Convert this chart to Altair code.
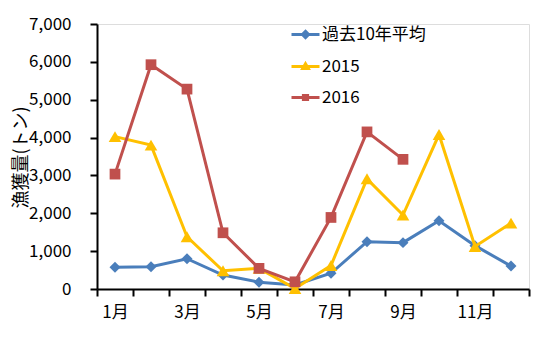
import altair as alt
import pandas as pd

months = list(range(1, 13))
series_names = ["過去10年平均", "2015", "2016"]
avg10 = [575, 590, 800, 370, 180, 105, 415, 1250, 1225, 1805, 1145, 605]
y2015 = [4025, 3800, 1380, 480, 545, 10, 620, 2910, 1955, 4080, 1125, 1740]
y2016 = [3035, 5925, 5280, 1485, 545, 190, 1890, 4150, 3425]
colors = ["#4A7EBB", "#FFC000", "#C0504D"]
plot_shapes = ["diamond", "triangle-up", "square"]
legend_paths = [
    "M-1,0H1M0,-0.22L0.22,0L0,0.22L-0.22,0Z",
    "M-1,0H1M0,-0.2L0.2,0.14L-0.2,0.14Z",
    "M-1,0H1M-0.15,-0.15H0.15V0.15H-0.15Z",
]
marker_sizes = [120, 160, 115]

rows = []
for name, vals in zip(series_names, [avg10, y2015, y2016]):
    for m, v in zip(months, vals):
        rows.append({"series": name, "month": m, "value": v})
df = pd.DataFrame(rows)

FONT = "Noto Sans CJK JP"
xvals = [i / 2 for i in range(1, 26)]

x_enc = alt.X(
    "month:Q",
    scale=alt.Scale(domain=[0.5, 12.5], nice=False, zero=False),
    axis=alt.Axis(
        values=xvals,
        title=None,
        grid=False,
        labelExpr="datum.value % 2 == 1 ? datum.value + '月' : ''",
        labelOverlap=False,
        labelFlush=False,
        labelFont=FONT,
        labelFontSize=17,
        labelColor="black",
        labelPadding=8,
        tickSize=7,
        tickWidth=2,
        tickColor="black",
        tickOpacity=alt.condition("datum.value % 1 != 0", alt.value(1), alt.value(0)),
        domainColor="black",
        domainWidth=2,
    ),
)
y_enc = alt.Y(
    "value:Q",
    scale=alt.Scale(domain=[0, 7000], nice=False),
    axis=alt.Axis(
        values=list(range(0, 7001, 1000)),
        format=",d",
        title="漁獲量(トン)",
        titleFont=FONT,
        titleFontSize=18,
        titleFontWeight="normal",
        titleColor="black",
        titleAngle=-90,
        titleX=-76,
        titleY=133,
        titleAlign="center",
        titleBaseline="middle",
        titleLimit=300,
        grid=False,
        labelFont=FONT,
        labelFontSize=17,
        labelColor="black",
        labelPadding=19,
        tickSize=7,
        tickWidth=2,
        tickColor="black",
        domainColor="black",
        domainWidth=2,
    ),
)
color_scale = alt.Scale(domain=series_names, range=colors)

layers = []
for name, col, shp, sz in zip(series_names, colors, plot_shapes, marker_sizes):
    base = alt.Chart(df).transform_filter(alt.datum.series == name)
    layers.append(
        base.mark_line(strokeWidth=3, color=col).encode(x=x_enc, y=y_enc)
    )
    layers.append(
        base.mark_point(shape=shp, filled=True, size=sz, opacity=1, color=col).encode(
            x=x_enc, y=y_enc
        )
    )

leg = alt.Legend(
    title=None, orient="none", legendX=193, legendY=-5,
    symbolSize=784, symbolStrokeWidth=3, symbolOpacity=1,
    symbolFillColor="transparent",
    labelFont=FONT, labelFontSize=17, labelColor="black",
    labelOffset=1, rowPadding=7, padding=0,
)
legend_layer = alt.Chart(df).mark_point(filled=False, opacity=0, strokeWidth=3).encode(
    x=x_enc, y=y_enc,
    color=alt.Color("series:N", scale=color_scale, legend=leg),
    shape=alt.Shape("series:N", scale=alt.Scale(domain=series_names, range=legend_paths),
                    legend=leg),
)
layers.append(legend_layer)

chart = alt.layer(*layers).properties(
    width=432,
    height=265,
    autosize=alt.AutoSizeParams(type="none"),
    padding={"left": 89, "top": 16, "right": 18, "bottom": 55},
).configure_view(stroke=None).configure(background="white")

chart.save("out.html", embed_options={"renderer": "svg", "actions": False})
